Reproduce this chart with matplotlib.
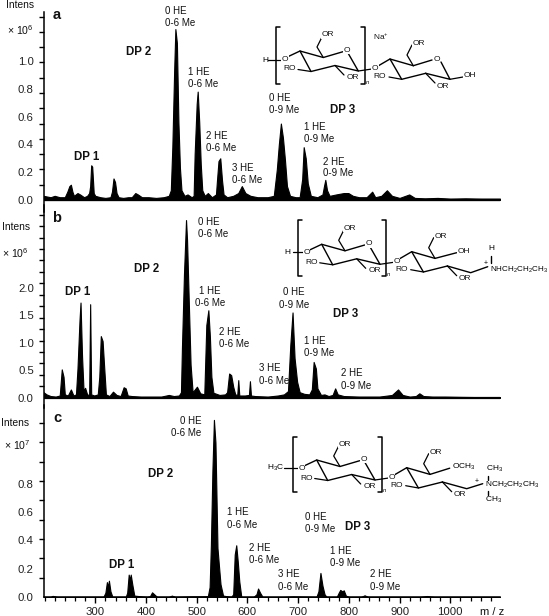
import numpy as np
import matplotlib
matplotlib.use("Agg")
import matplotlib.pyplot as plt

plt.rcParams["font.family"] = ["Liberation Sans", "DejaVu Sans"]
plt.rcParams["mathtext.default"] = "regular"

# spectrum a, x 10^6
mz_a = [198, 205, 212, 220, 230, 240, 245, 249, 252, 255, 258, 265, 270, 278, 284, 288, 290, 292, 294, 297,
        300, 310, 320, 330, 333, 336, 339, 342, 346, 355, 365, 372, 379, 384, 392, 405, 420, 435, 445,
        449, 452, 455.6, 458, 461, 464, 467, 470, 476, 482, 490, 494, 496, 500, 502, 505, 508, 511, 516,
        522, 530, 538, 540, 543, 546.5, 550, 553, 560, 572, 582, 589, 596, 606, 620, 640, 652, 658, 662,
        666, 670, 674, 678, 684, 695, 703, 708, 711, 715, 719, 725, 738, 748, 751, 753.6, 757, 762, 775,
        790, 799, 808, 820, 835, 846, 852, 864, 875, 885, 900, 919, 930, 950, 975, 1000, 1030, 1060, 1098]
int_a = [.03, .025, .02, .03, .02, .02, .06, .10, .11, .06, .03, .05, .04, .02, .03, .05, .10, .25, .24, .05,
         .03, .02, .015, .02, .06, .155, .13, .05, .02, .015, .02, .02, .05, .04, .02, .02, .015, .02, .03,
         .07, .38, .93, 1.23, 1.13, .56, .23, .07, .03, .04, .02, .03, .33, .69, .78, .56, .26, .07, .03,
         .05, .02, .04, .14, .28, .30, .14, .04, .02, .03, .05, .10, .05, .03, .02, .02, .03, .22, .40,
         .55, .45, .29, .10, .03, .02, .02, .15, .38, .30, .12, .03, .02, .04, .10, .145, .07, .03, .04,
         .05, .05, .03, .02, .02, .06, .02, .03, .07, .03, .015, .04, .015, .012, .015, .01, .012, .01, .01]

# spectrum b, x 10^6
mz_b = [198, 204, 212, 222, 230, 234, 237.5, 240, 246, 252, 257, 262, 265, 269, 271, 274, 277, 280, 284, 288,
        290, 292, 298, 305, 308, 311, 314.5, 318, 321, 328, 335, 342, 350, 356, 360, 364, 372, 390, 410, 430,
        445, 455, 465, 469, 471, 475, 479, 481, 485, 488, 492, 500.5, 507, 515, 519, 523, 526, 529, 533,
        545, 556, 560, 564, 568, 572, 576, 580, 582, 584, 595, 603, 605, 607, 615, 640, 660, 672, 680,
        684.6, 689, 693, 698, 703, 712, 722, 727, 730.6, 735, 738, 745, 752, 760, 768, 773, 778, 790, 820,
        860, 885, 897, 906, 920, 932, 939, 947, 965, 990, 1020, 1060, 1099]
int_b = [.1, .06, .03, .02, .04, .515, .38, .06, .04, .15, .04, .06, .53, 1.41, 1.73, .75, .12, .18, .06, .05,
         1.70, .06, .04, .06, .38, 1.12, 1.03, .5, .06, .03, .11, .05, .03, .19, .17, .04, .03, .02, .02, .02,
         .05, .03, .04, .1, .93, 2.26, 3.23, 2.87, 1.56, .6, .1, .2, .08, .06, 1.32, 1.59, 1.12, .38, .09,
         .05, .06, .1, .44, .41, .2, .06, .05, .32, .04, .04, .05, .3, .04, .03, .02, .04, .06, .12,
         .96, 1.55, .72, .29, .1, .07, .06, .15, .65, .53, .17, .05, .06, .03, .05, .17, .06, .03, .02,
         .02, .05, .15, .05, .02, .03, .08, .03, .02, .02, .015, .01, .01]

# spectrum c, x 10^7
mz_c = [198, 212, 216, 225, 300, 316, 320, 323, 325, 327, 330, 334, 360, 363, 366, 368, 370, 373, 377, 402, 408,
        412, 416, 422, 445, 451, 458, 490, 510, 522, 525.5, 528, 531, 534, 537, 541, 544, 547, 552, 568,
        572, 575, 578, 581, 584, 588, 612, 618, 621, 625, 630, 670, 690, 736, 740, 744, 748, 752, 756,
        776, 780, 783, 787, 790, 794, 800, 824, 831, 838, 940, 954, 968, 1000, 1098]
int_c = [0, 0, .008, 0, 0, 0, .03, .105, .07, .115, .04, 0, 0, .03, .158, .12, .158, .09, .01, 0, .006,
         .033, .02, 0, 0, .01, 0, .004, .004, .005, .07, .365, .89, 1.25, 1.09, .346, .216, .09, .01, 0,
         .02, .3, .365, .25, .11, 0, 0, .02, .06, .03, 0, 0, .004, 0, .04, .17, .08, .02, 0,
         0, .03, .05, .04, .047, .01, 0, 0, .012, 0, 0, .007, 0, 0, 0]

xticks_c = [300, 400, 500, 600, 700, 800, 900, 1000]
yticks_a = [0.0, 0.2, 0.4, 0.6, 0.8, 1.0]
yticks_b = [0.0, 0.5, 1.0, 1.5, 2.0]
yticks_c = [0.0, 0.2, 0.4, 0.6, 0.8]

W, H = 549, 616
fig = plt.figure(figsize=(W / 100, H / 100), dpi=100)


def make_axes(top, bottom, y0, ppu, mz, vals, yticks, tick_step, fmt="%.1f"):
    ax = fig.add_axes([43.5 / W, 1 - bottom / H, 456.5 / W, (bottom - top) / H])
    ax.patch.set_visible(False)
    ax.set_xlim(198, 1098)
    ax.set_ylim((y0 - bottom) / ppu, (y0 - top) / ppu)
    ax.fill_between(mz, 0, vals, color="black", lw=0.8)
    for s in ["top", "right", "bottom"]:
        ax.spines[s].set_visible(False)
    ax.spines["left"].set_linewidth(1.1)
    ax.set_xticks([])
    ax.set_yticks(yticks)
    ax.set_yticklabels([fmt % v for v in yticks], fontsize=8.2, color="#222222")
    ax.tick_params(axis="y", which="major", length=0, pad=7)
    lo, hi = ax.get_ylim()
    marks = [v for v in np.arange(0, hi, tick_step)] + [v for v in np.arange(-tick_step, lo, -tick_step)]
    ax.set_yticks(marks, minor=True)
    ax.tick_params(axis="y", which="minor", length=3.5, width=1.0)
    return ax


ax_a = make_axes(12, 212, 200, 139, mz_a, int_a, yticks_a, 0.11)
ax_a.plot([198, 1098], [0, 0], color="black", lw=1.6)
ax_b = make_axes(205, 408, 397.7, 55, mz_b, int_b, yticks_b, 0.208)
ax_b.plot([198, 1098], [0, 0], color="black", lw=1.6)
ax_c = make_axes(405, 597, 597, 141.7, mz_c, int_c, yticks_c, 0.1365)
ax_c.spines["bottom"].set_visible(True)
ax_c.spines["bottom"].set_linewidth(1.1)
ax_c.set_xticks(xticks_c)
ax_c.set_xticklabels([str(v) for v in xticks_c], fontsize=8.2, color="#222222")
ax_c.set_xticks(np.arange(200, 1098, 20), minor=True)
ax_c.tick_params(axis="x", which="major", length=4, width=1.0, pad=3)
ax_c.tick_params(axis="x", which="minor", length=3, width=0.9)

# overlay in image pixels for the annotations
ov = fig.add_axes([0, 0, 1, 1])
ov.set_xlim(0, W)
ov.set_ylim(H, 0)
ov.axis("off")


def txt(x, y, s, size=7, ha="left", weight="normal"):
    ov.text(x, y, s, fontsize=size, ha=ha, va="center", weight=weight, color="#111111")


def he(x1, y1, s1, x2, y2, s2):
    txt(x1, y1, s1, 7.0)
    txt(x2, y2, s2, 7.0)


txt(20, 5, "Intens", 7.4, "center")
txt(16, 227, "Intens", 7.4, "center")
txt(15, 423, "Intens", 7.4, "center")
txt(20, 30, "× 10$^{6}$", 7.6, "center")
txt(15, 253, "× 10$^{6}$", 7.6, "center")
txt(17, 445, "× 10$^{7}$", 7.6, "center")
txt(57, 15, "a", 10.5, "center", "bold")
txt(57, 218, "b", 10.5, "center", "bold")
txt(57, 418, "c", 10.5, "center", "bold")
txt(492, 612, "m / z", 8, "center")

for x, y, s in [(139, 52, "DP 2"), (87, 157, "DP 1"), (343, 110, "DP 3"),
                (78, 292, "DP 1"), (147, 269, "DP 2"), (346, 314, "DP 3"),
                (122, 565, "DP 1"), (161, 474, "DP 2"), (358, 527, "DP 3")]:
    txt(x, y, s, 8.3, "center", "bold")

he(165, 11, "0 HE", 165, 23, "0-6 Me")
he(188, 72, "1 HE", 188, 84, "0-6 Me")
he(206, 136, "2 HE", 206, 148, "0-6 Me")
he(232, 168, "3 HE", 232, 180, "0-6 Me")
he(269, 98, "0 HE", 269, 110, "0-9 Me")
he(304, 127, "1 HE", 304, 139, "0-9 Me")
he(323, 162, "2 HE", 323, 173, "0-9 Me")
he(198, 222, "0 HE", 198, 234, "0-6 Me")
he(199, 291, "1 HE", 195, 303, "0-6 Me")
he(219, 332, "2 HE", 219, 344, "0-6 Me")
he(259, 368, "3 HE", 259, 381, "0-6 Me")
he(283, 292, "0 HE", 279, 305, "0-9 Me")
he(304, 341, "1 HE", 304, 353, "0-9 Me")
he(341, 373, "2 HE", 341, 386, "0-9 Me")
he(180, 421, "0 HE", 171, 433, "0-6 Me")
he(227, 512, "1 HE", 227, 525, "0-6 Me")
he(249, 548, "2 HE", 249, 560, "0-6 Me")
he(278, 574, "3 HE", 278, 587, "0-6 Me")
he(305, 517, "0 HE", 305, 529, "0-9 Me")
he(330, 551, "1 HE", 330, 563, "0-9 Me")
he(370, 574, "2 HE", 370, 587, "0-9 Me")


def line(pts, lw=1.0):
    xs, ys = zip(*pts)
    ov.plot(xs, ys, color="black", lw=lw, solid_capstyle="round", solid_joinstyle="round")


def chem(x, y, s, ha="center"):
    ov.text(x, y, s, fontsize=6, ha=ha, va="center", color="#111111",
            bbox=dict(fc="white", ec="none", pad=0.3))


def repeat_ring(ax0, ay0, br_l, br_r, br_t, br_b):
    r = lambda dx, dy: (ax0 + dx, ay0 + dy)
    line([r(-17, 8), r(0, 0), r(23.3, 6.5), r(43, 0.7)])
    line([r(48, 2), r(58.3, 20), r(35, 14.5), r(11, 20.5), r(0, 0)])
    line([r(23.3, 6.5), r(17, -4), r(22, -14)], 0.9)
    line([r(11, 20.5), r(-2, 18.5)], 0.9)
    line([r(35, 14.5), r(44, 24)], 0.9)
    line([r(58.3, 20), r(72, 18)], 0.9)
    chem(*r(47, -0.7), "O")
    chem(*r(-15, 8.3), "O")
    chem(*r(28, -16), "OR")
    chem(*r(-10, 18), "RO")
    chem(*r(53, 26.7), "OR")
    chem(*r(75, 17.3), "O")
    line([(br_l + 4, br_t), (br_l, br_t), (br_l, br_b), (br_l + 4, br_b)], 1.1)
    line([(br_r - 4, br_t), (br_r, br_t), (br_r, br_b), (br_r - 4, br_b)], 1.1)
    ov.text(br_r + 3, br_b - 2, "n", fontsize=4.2, ha="center", va="center", style="italic")


def end_common(ax0, ay0):
    r = lambda dx, dy: (ax0 + dx, ay0 + dy)
    line([r(-12, 7), r(0, 0), r(23.3, 6.7)])
    line([r(0, 0), r(11.7, 20.3), r(35.7, 14.3)])
    line([r(23.3, 6.7), r(17, -4), r(22, -14)], 0.9)
    line([r(11.7, 20.3), r(-1, 18)], 0.9)
    line([r(35.7, 14.3), r(45, 24)], 0.9)
    chem(*r(29, -15.7), "OR")
    chem(*r(-10, 18), "RO")
    chem(*r(53, 27), "OR")
    return r


# a: Na adduct
repeat_ring(300, 51, 276, 365, 27, 84)
line([(268, 60), (281, 60)], 0.9)
ov.text(265, 60, "H", fontsize=6, ha="center", va="center")
r = end_common(390, 59)
line([r(23.3, 6.7), r(42, 1)])
line([r(51, 3), r(60, 20.3), r(35.7, 14.3)])
line([r(60, 20.3), r(73, 18)], 0.9)
chem(*r(46.7, 0.3), "O")
chem(*r(80, 16.7), "OH")
txt(381, 37, "Na$^{+}$", 6, "center")

# b: amine
repeat_ring(321.7, 244.3, 298, 386, 220, 276)
line([(293, 252), (305, 252)], 0.9)
ov.text(287, 252, "H", fontsize=6, ha="center", va="center")
r = end_common(411.7, 251.7)
line([r(23.3, 6.7), r(45, 1)])
line([r(35.7, 14.3), r(59, 21), r(76, 15)])
chem(*r(52, 0), "OH")
line([(491, 256), (491, 263)], 1.0)
ov.text(491, 249, "H", fontsize=6, ha="center", va="center")
ov.text(486, 263.5, "+", fontsize=5, ha="center", va="center")
ov.text(490, 269.5, "NHCH$_2$CH$_2$CH$_3$", fontsize=5.8, ha="left", va="center")

# c: methylated amine
repeat_ring(316.7, 460, 293, 382, 437, 492)
line([(284, 468), (301, 468)], 0.9)
ov.text(276, 468, "H$_3$C", fontsize=6, ha="center", va="center")
r = end_common(406.7, 467.7)
line([r(23.3, 6.7), r(43, 0.5)])
line([r(35.7, 14.3), r(60, 21), r(76, 16)])
ov.text(452, 467, "OCH$_3$", fontsize=6, ha="left", va="center")
line([(488, 476), (488, 480)], 1.0)
line([(488, 491), (488, 495)], 1.0)
ov.text(485.5, 469, "CH$_3$", fontsize=6, ha="left", va="center")
ov.text(485, 500, "CH$_3$", fontsize=6, ha="left", va="center")
ov.text(477, 481, "+", fontsize=5, ha="center", va="center")
ov.text(485, 484.5, "NCH$_2$CH$_2$CH$_3$", fontsize=6, ha="left", va="center")

fig.savefig("out.png", dpi=100)
